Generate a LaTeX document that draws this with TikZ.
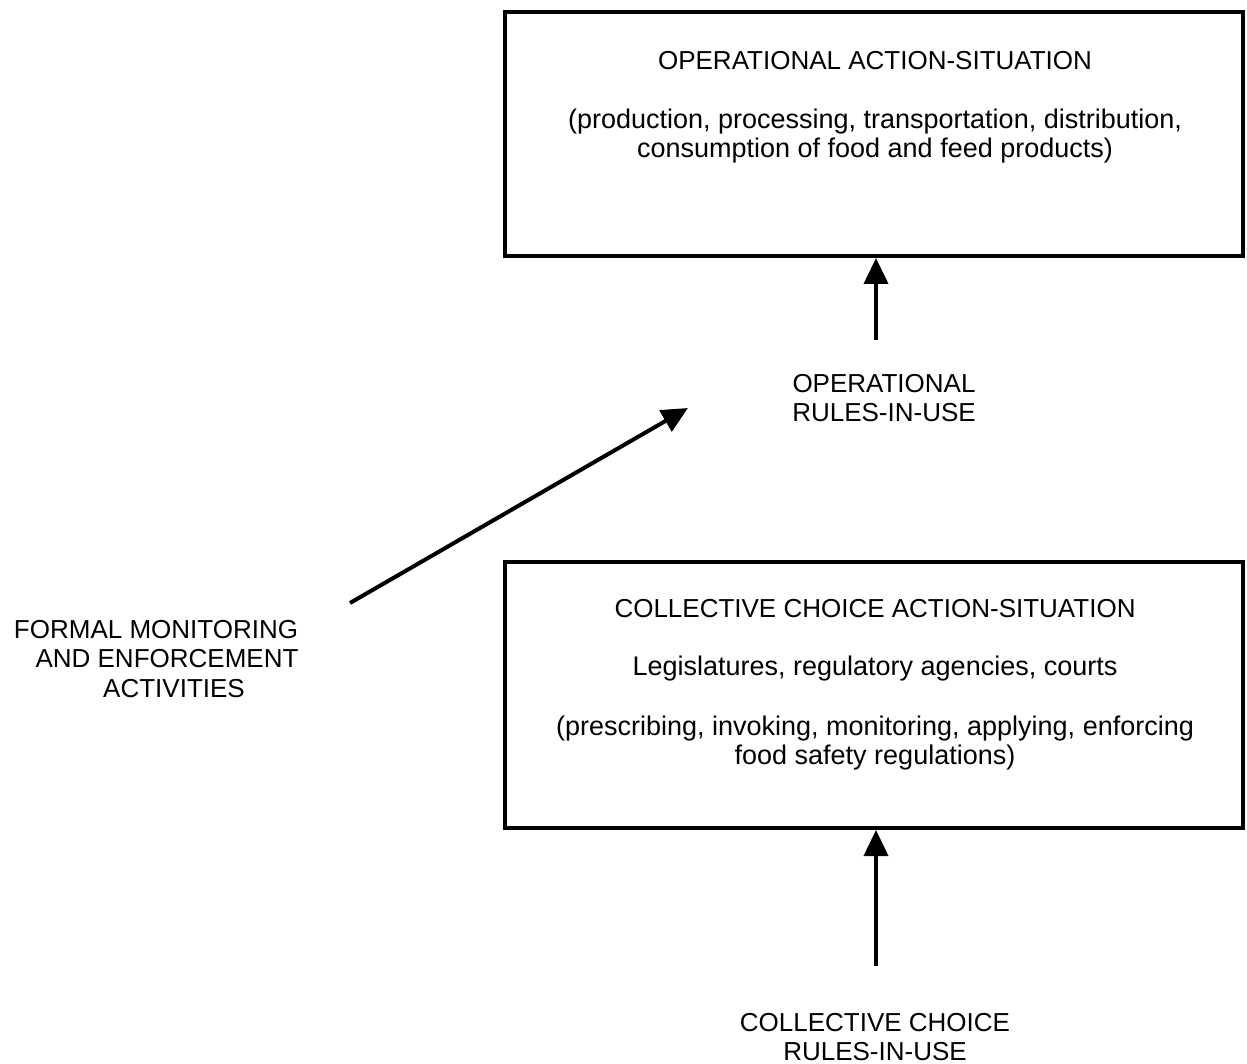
\documentclass[tikz,border=0pt]{standalone}
\usepackage{fontspec}
\setmainfont{Liberation Sans}
\usetikzlibrary{arrows.meta}
\begin{document}
\begin{tikzpicture}[x=1pt,y=-1pt,
  box/.style={draw,line width=4pt},
  lbl/.style={font=\fontsize{26}{29.5}\selectfont,align=center,inner sep=0pt},
  lbls/.style={font=\fontsize{27}{29.5}\selectfont,align=center,inner sep=0pt},
  arr/.style={line width=4pt,-{Triangle[length=26pt,width=24pt]}}]
\useasboundingbox (0,0) rectangle (1247,1064);
\draw[box] (505,12) rectangle (1243,256);
\draw[box] (505,562) rectangle (1243,828);
\node[lbl] (optitle) at (875,61) {OPERATIONAL ACTION-SITUATION};
\node[lbls] (optext) at (875,136) {(production, processing, transportation, distribution,\\consumption of food and feed products)};
\node[lbl] (oprules) at (884,398) {OPERATIONAL\\RULES-IN-USE};
\node[lbl] (formal) at (156,659) {FORMAL MONITORING\\\hspace*{22pt}AND ENFORCEMENT\\\hspace*{36pt}ACTIVITIES};
\node[lbl] (cctitle) at (875,609) {COLLECTIVE CHOICE ACTION-SITUATION};
\node[lbls] (ccleg) at (875,669) {Legislatures, regulatory agencies, courts};
\node[lbls] (cctext) at (875,743) {(prescribing, invoking, monitoring, applying, enforcing\\food safety regulations)};
\node[lbl] (ccrules) at (875,1037) {COLLECTIVE CHOICE\\RULES-IN-USE};
\coordinate (a1s) at (876,340);
\coordinate (a1e) at (876,258);
\coordinate (a2s) at (350,603);
\coordinate (a2e) at (688,408);
\coordinate (a3s) at (876,966);
\coordinate (a3e) at (876,830);
\draw[arr] (a1s) -- (a1e);
\draw[arr] (a2s) -- (a2e);
\draw[arr] (a3s) -- (a3e);
\end{tikzpicture}
\end{document}
